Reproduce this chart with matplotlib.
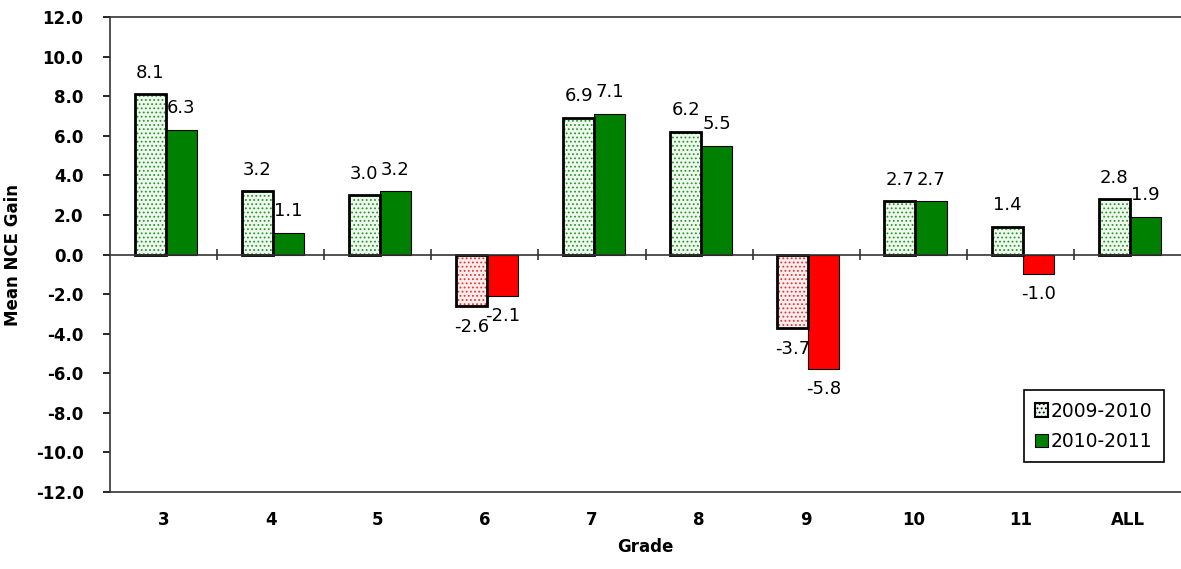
import numpy as np
import matplotlib
matplotlib.use("Agg")
import matplotlib.pyplot as plt
from matplotlib.patches import Patch

grades = ["3", "4", "5", "6", "7", "8", "9", "10", "11", "ALL"]
gain_0910 = [8.1, 3.2, 3.0, -2.6, 6.9, 6.2, -3.7, 2.7, 1.4, 2.8]
gain_1011 = [6.3, 1.1, 3.2, -2.1, 7.1, 5.5, -5.8, 2.7, -1.0, 1.9]
y_ticks = np.arange(-12, 12.1, 2)

plt.rcParams["font.family"] = ["DejaVu Sans"]
plt.rcParams["hatch.linewidth"] = 0.8

fig = plt.figure(figsize=(11.81, 5.69), dpi=100)
ax = fig.add_axes([0.0931, 0.1353, 0.907, 0.8348])

x = np.arange(len(grades))
w = 0.29

# 2009-2010: dotted pale bars with thick black outline
for xi, v in zip(x, gain_0910):
    dot = "#2a9a2a" if v >= 0 else "#e03a3a"
    face = "#eef8ee" if v >= 0 else "#fcecec"
    ax.bar(xi - 0.125, v, w, color=face, edgecolor=dot, hatch="....", linewidth=0, zorder=2)
    ax.bar(xi - 0.125, v, w, fill=False, edgecolor="black", linewidth=2, zorder=3)
    off = 9 if v >= 0 else -9
    ax.annotate(f"{v:.1f}", (xi - 0.125, v), xytext=(0, off), textcoords="offset points",
                ha="center", va="bottom" if v >= 0 else "top", fontsize=13)

# 2010-2011: solid green / red bars
for xi, v in zip(x, gain_1011):
    col = "#008000" if v >= 0 else "#ff0000"
    ax.bar(xi + 0.165, v, w, color=col, edgecolor="black", linewidth=0.8, zorder=2)
    off = 9 if v >= 0 else -8
    ax.annotate(f"{v:.1f}", (xi + 0.165, v), xytext=(0, off), textcoords="offset points",
                ha="center", va="bottom" if v >= 0 else "top", fontsize=13)

ax.axhline(0, color="#333333", linewidth=1.2, zorder=4)
ax.vlines(x[:-1] + 0.5, -0.28, 0.28, color="#333333", linewidth=1.2, zorder=4)

ax.set_xlim(-0.5, len(grades) - 0.5)
ax.set_ylim(-12, 12)
ax.set_yticks(y_ticks)
ax.set_yticklabels([f"{t:.1f}" for t in y_ticks], fontsize=12, fontweight="bold")
ax.set_xticks(x)
ax.set_xticklabels(grades, fontsize=12, fontweight="bold")
ax.tick_params(axis="x", length=0, pad=14)
ax.tick_params(axis="y", length=5, width=1.2, direction="out", pad=14)

for s in ["left", "top", "bottom"]:
    ax.spines[s].set_linewidth(1.2)
    ax.spines[s].set_color("#333333")
ax.spines["right"].set_visible(False)

ax.set_ylabel("Mean NCE Gain", fontsize=12, fontweight="bold", labelpad=10)
ax.set_xlabel("Grade", fontsize=12, fontweight="bold", labelpad=6)

handles = [Patch(facecolor="#eef8ee", edgecolor="black", hatch="....", linewidth=1.5),
           Patch(facecolor="#008000", edgecolor="black", linewidth=0.8)]
leg = ax.legend(handles, ["2009-2010", "2010-2011"], loc="lower right",
                bbox_to_anchor=(0.984, 0.063), fontsize=13.5, fancybox=False,
                edgecolor="black", framealpha=1, handlelength=0.7, handleheight=0.7,
                handletextpad=0.15, borderpad=0.6, labelspacing=0.6, borderaxespad=0)
leg.get_frame().set_linewidth(1.2)

fig.savefig("out.png", dpi=100)
